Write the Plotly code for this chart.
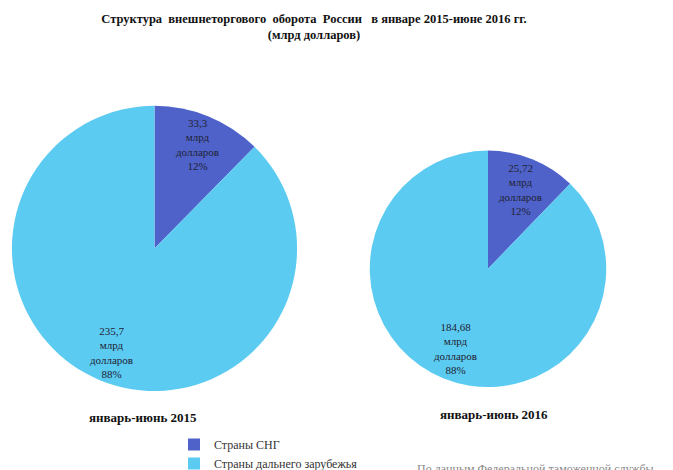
import math
import plotly.graph_objects as go

categories = ["Страны СНГ", "Страны дальнего зарубежья"]
values_2015 = [33.3, 235.7]
values_2016 = [25.72, 184.68]
value_text_2015 = ["33,3", "235,7"]
value_text_2016 = ["25,72", "184,68"]
percent_2015 = ["12%", "88%"]
percent_2016 = ["12%", "88%"]
period_labels = ["январь-июнь 2015", "январь-июнь 2016"]

colors = ["#4f62c9", "#5ccbf1"]
W, H = 673, 470
OX, OY = -8, -5  # page offset compensation
serif = "Liberation Serif, Times New Roman, serif"

def px(x):
    return (x + OX) / W

def py(y, oy=OY):
    return (H - (y + oy)) / H

# pie geometry in pixels: (cx, cy, r), label radial fraction, period label offset
pies = [
    dict(vals=values_2015, vt=value_text_2015, pc=percent_2015, lab=period_labels[0],
         cx=154.5, cy=247, r=143.5, frac=0.79, lab_dx=-12, lab_dy=170),
    dict(vals=values_2016, vt=value_text_2016, pc=percent_2016, lab=period_labels[1],
         cx=488, cy=267.5, r=119, frac=0.725, lab_dx=6, lab_dy=146.5),
]

fig = go.Figure()
annotations = []
for p in pies:
    d = dict(x=[px(p["cx"] - p["r"]), px(p["cx"] + p["r"])],
             y=[py(p["cy"] + p["r"]), py(p["cy"] - p["r"])])
    fig.add_trace(go.Pie(
        labels=categories, values=p["vals"], sort=False, direction="clockwise", rotation=0,
        marker=dict(colors=colors, line=dict(width=0)),
        textinfo="none", hoverinfo="label+value+percent",
        domain=d,
    ))
    total = sum(p["vals"])
    cum = 0.0
    for v, vt, pc in zip(p["vals"], p["vt"], p["pc"]):
        mid = (cum + v / 2) / total * 2 * math.pi
        cum += v
        x = p["cx"] + p["frac"] * p["r"] * math.sin(mid)
        y = p["cy"] - p["frac"] * p["r"] * math.cos(mid)
        annotations.append(dict(
            text=f"{vt}<br>млрд<br>долларов<br>{pc}", x=px(x), y=py(y),
            xref="paper", yref="paper", xanchor="center", yanchor="middle", showarrow=False,
            font=dict(family=serif, size=11, color="#1f2233")))
    annotations.append(dict(
        text=f"<b>{p['lab']}</b>", x=px(p["cx"] + p["lab_dx"]), y=py(p["cy"] + p["lab_dy"]),
        xref="paper", yref="paper", xanchor="center", yanchor="middle", showarrow=False,
        font=dict(family=serif, size=13, color="#111111")))

annotations.append(dict(text="По данным Федеральной таможенной службы", x=px(415), y=py(460),
                        xref="paper", yref="paper", xanchor="left", yanchor="top", showarrow=False,
                        font=dict(family=serif, size=12, color="#888888")))

fig.update_layout(
    width=W, height=H,
    margin=dict(l=0, r=0, t=0, b=0),
    paper_bgcolor="white", plot_bgcolor="white",
    title=dict(text="<b>Структура  внешнеторгового  оборота  России   в январе 2015-июне 2016 гг.</b><br><b>(млрд долларов)</b>",
               x=px(314), xanchor="center", y=py(15, 0), yanchor="top",
               font=dict(family=serif, size=12.5, color="#111111")),
    legend=dict(x=px(174), y=py(430), xanchor="left", yanchor="top",
                font=dict(family=serif, size=12, color="#333333"),
                itemwidth=30),
    annotations=annotations,
)

fig.write_html("out.html")
